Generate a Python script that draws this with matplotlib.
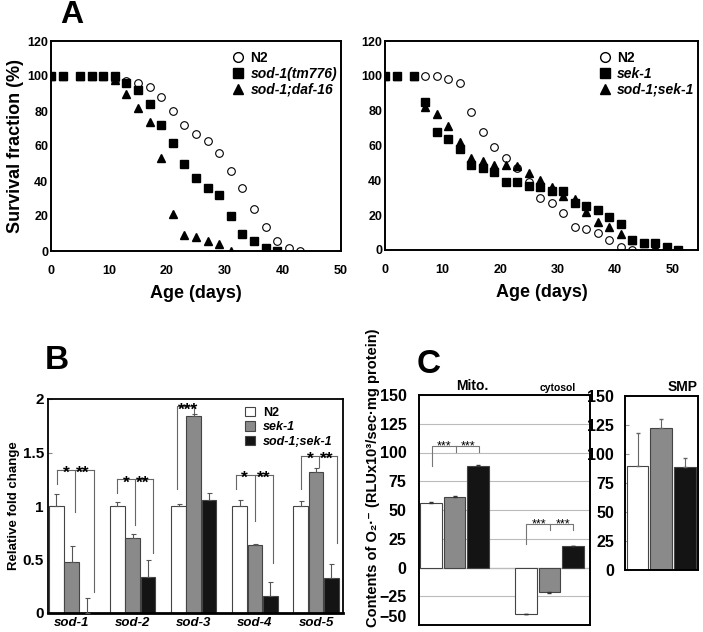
import matplotlib.pyplot as plt
from matplotlib.lines import Line2D
from matplotlib.patches import Patch

plt.rcParams['font.family'] = ['Liberation Sans', 'DejaVu Sans']
plt.rcParams['font.weight'] = 'bold'
plt.rcParams['axes.labelweight'] = 'bold'

# ---- panel A, left: survival (%) vs age (days)
a1_n2_days = [0, 2, 5, 7, 9, 11, 13, 15, 17, 19, 21, 23, 25, 27, 29, 31, 33, 35, 37, 39, 41, 43]
a1_n2_surv = [100, 100, 100, 100, 100, 98, 97, 96, 94, 88, 80, 72, 67, 63, 56, 46, 36, 24, 14, 6, 2, 0]
a1_sod1_days = [0, 2, 5, 7, 9, 11, 13, 15, 17, 19, 21, 23, 25, 27, 29, 31, 33, 35, 37, 39]
a1_sod1_surv = [100, 100, 100, 100, 100, 100, 96, 92, 84, 72, 62, 50, 42, 36, 32, 20, 10, 6, 2, 0]
a1_daf_days = [0, 2, 5, 7, 9, 11, 13, 15, 17, 19, 21, 23, 25, 27, 29, 31]
a1_daf_surv = [100, 100, 100, 100, 100, 98, 90, 82, 74, 53, 21, 9, 8, 6, 4, 0]

# ---- panel A, right
a2_n2_days = [0, 2, 5, 7, 9, 11, 13, 15, 17, 19, 21, 23, 25, 27, 29, 31, 33, 35, 37, 39, 41, 43]
a2_n2_surv = [100, 100, 100, 100, 100, 98, 96, 79, 68, 59, 53, 47, 39, 30, 27, 21, 13, 12, 10, 6, 2, 0]
a2_sek_days = [0, 2, 5, 7, 9, 11, 13, 15, 17, 19, 21, 23, 25, 27, 29, 31, 33, 35, 37, 39, 41, 43, 45, 47, 49, 51]
a2_sek_surv = [100, 100, 100, 85, 68, 64, 58, 49, 47, 45, 39, 39, 37, 36, 34, 34, 27, 25, 23, 19, 15, 6, 4, 4, 2, 0]
a2_dbl_days = [0, 2, 5, 7, 9, 11, 13, 15, 17, 19, 21, 23, 25, 27, 29, 31, 33, 35, 37, 39, 41, 43, 45, 47, 49]
a2_dbl_surv = [100, 100, 100, 82, 78, 71, 62, 53, 51, 49, 49, 48, 44, 40, 36, 31, 29, 22, 16, 13, 9, 6, 4, 2, 0]

# ---- panel B: relative fold change
genes = ['sod-1', 'sod-2', 'sod-3', 'sod-4', 'sod-5']
fold_n2 = [1.0, 1.0, 1.0, 1.0, 1.0]
fold_n2_err = [0.11, 0.04, 0.015, 0.06, 0.05]
fold_sek = [0.48, 0.705, 1.845, 0.636, 1.32]
fold_sek_err = [0.15, 0.03, 0.015, 0.008, 0.035]
fold_dbl = [0.0, 0.34, 1.058, 0.156, 0.328]
fold_dbl_err = [0.14, 0.16, 0.068, 0.134, 0.131]

# ---- panel C: O2- contents
c_mito = [56, 61, 88.4]
c_mito_err = [1.2, 1.0, 1.0]
c_cyto = [-40, -21, 18.5]
c_cyto_err = [0.8, 0.8, 0.5]
c_smp = [89.7, 122.3, 89]
c_smp_err = [28.7, 7.7, 7.8]

bar_cols = ['white', '#8a8a8a', '#141414']

fig = plt.figure(figsize=(7.03, 6.32), dpi=100)


def bold_ticks(ax):
    for t in ax.get_xticklabels() + ax.get_yticklabels():
        t.set_fontweight('bold')


def style_a(ax):
    ax.set_ylim(0, 120)
    ax.set_yticks(range(0, 121, 20))
    ax.set_xticks(range(0, 51, 10))
    ax.tick_params(axis='x', length=0, pad=10, labelsize=9)
    ax.tick_params(axis='y', length=0, pad=2, labelsize=9)
    bold_ticks(ax)
    for s in ax.spines.values():
        s.set_linewidth(1.4)
    ax.set_xlabel('Age (days)', fontsize=13, labelpad=6)


def legend_a(ax, labels):
    h = [Line2D([], [], ls='none', marker='o', mfc='white', mec='black', ms=7),
         Line2D([], [], ls='none', marker='s', color='black', ms=7),
         Line2D([], [], ls='none', marker='^', color='black', ms=7)]
    leg = ax.legend(h, labels, loc='upper right', bbox_to_anchor=(1.02, 1.0), frameon=False,
                    fontsize=10, handlelength=0.8, handletextpad=0.5, labelspacing=0.15,
                    borderaxespad=0.3)
    for t in leg.get_texts()[1:]:
        t.set_style('italic')


ax1 = fig.add_axes([51 / 703, 1 - 251 / 632, 290 / 703, 210 / 632])
ax1.plot(a1_n2_days, a1_n2_surv, 'o', mfc='white', mec='black', ms=5.5, mew=0.8)
ax1.plot(a1_sod1_days, a1_sod1_surv, 's', color='black', ms=5.5)
ax1.plot(a1_daf_days, a1_daf_surv, '^', color='black', ms=5.5)
ax1.set_xlim(0, 50)
style_a(ax1)
ax1.set_ylabel('Survival fraction (%)', fontsize=13, labelpad=2)
legend_a(ax1, ['N2', 'sod-1(tm776)', 'sod-1;daf-16'])

ax2 = fig.add_axes([385 / 703, 1 - 250 / 632, 313 / 703, 209 / 632])
ax2.plot(a2_n2_days, a2_n2_surv, 'o', mfc='white', mec='black', ms=5.5, mew=0.8)
ax2.plot(a2_sek_days, a2_sek_surv, 's', color='black', ms=5.5)
ax2.plot(a2_dbl_days, a2_dbl_surv, '^', color='black', ms=5.5)
ax2.set_xlim(0, 54.4)
style_a(ax2)
legend_a(ax2, ['N2', 'sek-1', 'sod-1;sek-1'])

# ---- panel B
axb = fig.add_axes([48 / 703, 1 - 613 / 632, 295 / 703, 214 / 632])
w = 0.25
xs = list(range(len(genes)))
for k, (vals, errs) in enumerate([(fold_n2, fold_n2_err), (fold_sek, fold_sek_err), (fold_dbl, fold_dbl_err)]):
    pos = [x + (k - 1) * w for x in xs]
    axb.bar(pos, vals, width=w * 0.96, color=bar_cols[k], edgecolor='#444444', linewidth=0.8, zorder=2)
    axb.errorbar(pos, vals, yerr=[[0] * len(vals), errs], fmt='none', ecolor='#555555',
                 elinewidth=0.8, capsize=1.8, capthick=0.8, zorder=3)
axb.set_xlim(-0.385, 4.44)
axb.set_ylim(0, 2)
axb.set_yticks([0, 0.5, 1, 1.5, 2])
axb.set_yticklabels(['0', '0.5', '1', '1.5', '2'])
axb.set_xticks(xs)
axb.set_xticklabels(genes, style='italic', fontsize=9.5)
axb.tick_params(axis='x', length=0, pad=3)
axb.tick_params(axis='y', direction='in', length=3, color='#888888', pad=3, labelsize=11)
bold_ticks(axb)
for s in axb.spines.values():
    s.set_linewidth(1.3)
axb.spines['bottom'].set_linewidth(2)
axb.set_ylabel('Relative fold change', fontsize=9.5, labelpad=2)

# brackets: gene index, x offsets of drops, bracket height, drop ends, star offsets
b_brackets = [
    (0, (-0.24, 0.06, 0.37), 1.335, (1.21, 0.94, 0.2), (-0.09, 0.19)),
    (1, (-0.25, 0.04, 0.34), 1.25, (1.12, 0.82, 0.56), (-0.11, 0.17)),
    (3, (-0.31, 0.0, 0.30), 1.29, (1.16, 0.86, 0.47), (-0.17, 0.135)),
    (4, (-0.24, 0.05, 0.35), 1.47, (1.16, 1.36, 0.65), (-0.09, 0.18)),
]
lc = '#666666'
for g, offs, top, ends, stars in b_brackets:
    axb.plot([g + offs[0], g + offs[2]], [top, top], color=lc, lw=0.8)
    for o, e in zip(offs, ends):
        axb.plot([g + o, g + o], [top, e], color=lc, lw=0.8)
    axb.text(g + stars[0], top - 0.075, '*', ha='center', va='baseline', fontsize=12.5)
    axb.text(g + stars[1], top - 0.075, '**', ha='center', va='baseline', fontsize=12.5)
axb.plot([2 - 0.27, 2 - 0.27, 2.0, 2.0], [1.16, 1.93, 1.93, 1.87], color=lc, lw=0.8)
axb.text(2 - 0.1, 1.93 - 0.075, '***', ha='center', va='baseline', fontsize=12.5)

hb = [Patch(facecolor=c, edgecolor='#444444', lw=0.8) for c in bar_cols]
legb = axb.legend(hb, ['N2', 'sek-1', 'sod-1;sek-1'], loc='upper right', bbox_to_anchor=(0.99, 1.0),
                  frameon=False, fontsize=9, handlelength=0.8, handleheight=0.8,
                  handletextpad=0.6, labelspacing=0.2, borderaxespad=0.2)
for t in legb.get_texts()[1:]:
    t.set_style('italic')

# ---- panel C, main
axc = fig.add_axes([419 / 703, 1 - 625 / 632, 171 / 703, 230 / 632])
mito_x = [0.55, 1.6, 2.65]
cyto_x = [4.8, 5.85, 6.9]
for k in range(3):
    axc.bar(mito_x[k], c_mito[k], width=0.97, color=bar_cols[k], edgecolor='#444444', lw=0.8, zorder=2)
    axc.bar(cyto_x[k], c_cyto[k], width=0.97, color=bar_cols[k], edgecolor='#444444', lw=0.8, zorder=2)
    axc.errorbar(mito_x[k], c_mito[k], yerr=[[0], [c_mito_err[k]]], fmt='none', ecolor='#333333',
                 elinewidth=0.8, capsize=1.5, zorder=3)
    if c_cyto[k] < 0:
        ce = [[c_cyto_err[k]], [0]]
    else:
        ce = [[0], [c_cyto_err[k]]]
    axc.errorbar(cyto_x[k], c_cyto[k], yerr=ce, fmt='none', ecolor='#333333',
                 elinewidth=0.8, capsize=1.5, zorder=3)
axc.set_xlim(0, 7.67)
axc.set_ylim(-50, 150)
axc.set_yticks(range(-50, 151, 25))
axc.set_xticks([])
axc.grid(axis='y', color='#bbbbbb', lw=0.8, zorder=0)
axc.axhline(0, color='#555555', lw=0.8, zorder=1)
axc.tick_params(axis='y', length=0, pad=9, labelsize=11.5)
bold_ticks(axc)
axc.get_yticklabels()[0].set_va('bottom')
for s in axc.spines.values():
    s.set_linewidth(1.4)
axc.text(2.38, 1.008, 'Mito.', transform=axc.get_xaxis_transform(), ha='center', va='bottom', fontsize=10)
axc.text(6.23, 1.008, 'cytosol', transform=axc.get_xaxis_transform(), ha='center', va='bottom', fontsize=7.5)

lc2 = '#777777'
axc.plot([0.57, 0.57, 2.7, 2.7], [88.4, 106, 106, 100.5], color=lc2, lw=0.8)
axc.plot([1.65, 1.65], [106, 100.3], color=lc2, lw=0.8)
axc.text(1.13, 103, '***', ha='center', va='baseline', fontsize=9, fontweight='normal')
axc.text(2.21, 103, '***', ha='center', va='baseline', fontsize=9, fontweight='normal')
axc.plot([4.8, 4.8, 6.92, 6.92], [20.8, 38.2, 38.2, 33], color=lc2, lw=0.8)
axc.plot([5.87, 5.87], [38.2, 33], color=lc2, lw=0.8)
axc.text(5.38, 35.2, '***', ha='center', va='baseline', fontsize=9, fontweight='normal')
axc.text(6.44, 35.2, '***', ha='center', va='baseline', fontsize=9, fontweight='normal')

# ---- panel C, SMP
axs = fig.add_axes([625 / 703, 1 - 570 / 632, 73 / 703, 174 / 632])
smp_x = [0, 1.05, 2.12]
axs.bar(smp_x, c_smp, width=0.97, color=bar_cols, edgecolor='#444444', lw=0.8, zorder=2)
axs.errorbar(smp_x, c_smp, yerr=[[0] * 3, c_smp_err], fmt='none', ecolor='#666666',
             elinewidth=0.8, capsize=1.5, zorder=3)
axs.set_xlim(-0.56, 2.71)
axs.set_ylim(0, 150)
axs.set_yticks(range(0, 151, 25))
axs.set_xticks([])
axs.tick_params(axis='y', direction='in', length=3, color='#999999', pad=8, labelsize=11.5)
bold_ticks(axs)
for s in axs.spines.values():
    s.set_linewidth(1.4)
axs.text(1.0, 1.01, 'SMP', transform=axs.transAxes, ha='right', va='bottom', fontsize=10)

fig.text(373 / 703, 1 - 478 / 632, 'Contents of O\u2082\u00b7\u207b (RLUx10\u00b3/sec\u00b7mg protein)',
         rotation=90, ha='center', va='center', fontsize=10.5, fontweight='bold')

# panel letters
fig.text(60 / 703, 1.0, 'A', fontsize=23, ha='left', va='top')
fig.text(45 / 703, 1 - 345 / 632, 'B', fontsize=24, ha='left', va='top')
fig.text(417 / 703, 1 - 349 / 632, 'C', fontsize=24, ha='left', va='top')

fig.savefig('out.png', dpi=100)
